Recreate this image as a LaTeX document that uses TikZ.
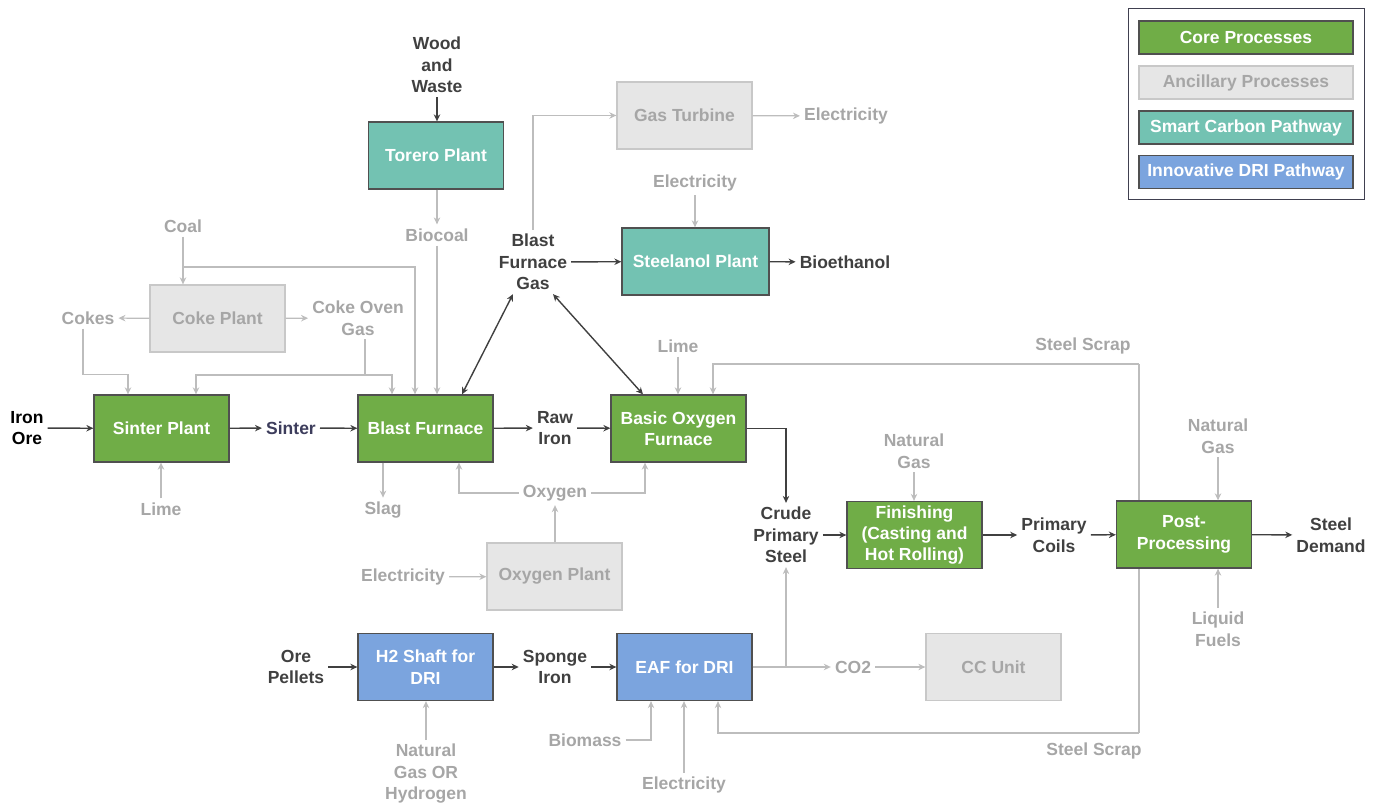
\documentclass[tikz,border=0pt]{standalone}
\usepackage{fontspec}
\setmainfont{Liberation Sans}
\usetikzlibrary{arrows.meta,calc}
\definecolor{cgreen}{HTML}{70AD47}
\definecolor{cteal}{HTML}{73C2B2}
\definecolor{cblue}{HTML}{7BA4DE}
\definecolor{cancfill}{HTML}{E6E6E6}
\definecolor{cancline}{HTML}{C8C8C8}
\definecolor{glabel}{HTML}{A6A6A6}
\definecolor{gline}{HTML}{BDBDBD}
\definecolor{dk}{HTML}{404040}
\definecolor{bord}{HTML}{505050}
\definecolor{sintc}{HTML}{3D3D5C}
\definecolor{legb}{HTML}{404050}
\begin{document}
\begin{tikzpicture}[x=1pt,y=-1pt,
 box/.style={draw=bord,line width=1.3pt,minimum width=135pt,minimum height=67pt,inner sep=0pt,align=center,text=white,font=\bfseries\fontsize{17.5}{21.5}\selectfont},
 core/.style={box,fill=cgreen},
 smart/.style={box,fill=cteal},
 dri/.style={box,fill=cblue},
 anc/.style={box,fill=cancfill,draw=cancline,text=glabel},
 glab/.style={text=glabel,align=center,font=\bfseries\fontsize{17.5}{21.5}\selectfont,inner sep=4pt},
 dlab/.style={glab,text=dk},
 tipa/.tip={Stealth[length=7pt,width=6.5pt]},
 ga/.style={draw=gline,line width=1.2pt,-tipa},
 gl/.style={draw=gline,line width=1.2pt},
 da/.style={draw=dk,line width=1.4pt,-tipa},
 dd/.style={draw=dk,line width=1.4pt,tipa-tipa},
 legbox/.style={minimum width=214pt,minimum height=33pt},
]
\useasboundingbox (0,0) rectangle (1374,805);

% steel scrap trunk (behind boxes)
\coordinate (ssT) at (1139,364);
\coordinate (ssB) at (1139,733);
\draw[gl] (ssT) -- (ssB);

% process boxes
\node[core] (sp) at (161.5,428.5) {Sinter Plant};
\node[core] (bf) at (425.5,428.5) {Blast Furnace};
\node[core] (bof) at (678.5,428.5) {Basic Oxygen\\Furnace};
\node[anc] (coke) at (217.5,318.5) {Coke Plant};
\node[smart] (tor) at (436,155.5) {Torero Plant};
\node[anc] (gt) at (684.5,115.5) {Gas Turbine};
\node[smart,minimum width=147pt] (stl) at (695.5,261.5) {Steelanol Plant};
\node[anc] (oxp) at (554.5,576.5) {Oxygen Plant};
\node[core,font=\bfseries\fontsize{17.5}{21}\selectfont] (fin) at (914.5,535) {Finishing\\(Casting and\\Hot Rolling)};
\node[core] (pp) at (1184,534.5) {Post-\\Processing};
\node[dri] (h2) at (425.5,667) {H2 Shaft for\\DRI};
\node[dri] (eaf) at (684.5,667) {EAF for DRI};
\node[anc] (cc) at (993.5,667) {CC Unit};

% labels
\node[dlab] (wood) at (437,65) {Wood\\and\\Waste};
\node[glab] (biocoal) at (437,235) {Biocoal};
\node[glab] (coal) at (183,226) {Coal};
\node[glab] (cokes) at (88,318) {Cokes};
\node[glab] (cog) at (358,318) {Coke Oven\\Gas};
\node[glab] (lime1) at (161,509) {Lime};
\node[dlab,text=black] (ore) at (27,428) {Iron\\Ore};
\node[dlab,text=sintc] (sin) at (291,428) {Sinter};
\node[dlab] (raw) at (555,428) {Raw\\Iron};
\node[glab] (slag) at (383,510) {Slag};
\node[glab] (oxy) at (555,493) {Oxygen};
\node[glab] (el1) at (403,577) {Electricity};
\node[dlab] (bfg) at (533,262) {Blast\\Furnace\\Gas};
\node[glab] (el2) at (846,116) {Electricity};
\node[glab] (el3) at (695,183) {Electricity};
\node[dlab] (bioeth) at (845,262) {Bioethanol};
\node[glab] (lime2) at (678,346) {Lime};
\node[glab] (ss1) at (1083,346) {Steel Scrap};
\node[glab] (ss2) at (1094,751) {Steel Scrap};
\node[dlab] (cps) at (786,535) {Crude\\Primary\\Steel};
\node[glab] (ng1) at (914,451) {Natural\\Gas};
\node[dlab] (pc) at (1054,535) {Primary\\Coils};
\node[glab] (ng2) at (1218,436) {Natural\\Gas};
\node[glab] (lf) at (1218,629) {Liquid\\Fuels};
\node[dlab] (sd) at (1331,535) {Steel\\Demand};
\node[dlab] (op) at (296,667) {Ore\\Pellets};
\node[glab] (ngh) at (426,774) {Natural\\Gas OR\\Hydrogen};
\node[dlab] (spi) at (555,667) {Sponge\\Iron};
\node[glab] (co2) at (853,667) {CO2};
\node[glab] (bio) at (585,740) {Biomass};
\node[glab] (el4) at (684,785) {Electricity};

% connectors - top
\draw[da] (wood.south) -- (wood.south|-tor.north);
\draw[ga] (biocoal.north|-tor.south) -- (biocoal.north);
\draw[ga] (biocoal.south) -- (biocoal.south|-bf.north);
\draw[ga] (coal.south) -- (coal.south|-coke.north);
\coordinate (cj) at (183,267);
\draw[ga] (cj) -| ([xshift=-10.5pt]bf.north);
\draw[ga] (coke) -- (cokes);
\draw[ga] (coke) -- (cog);
\draw[ga] ([xshift=-5pt]cokes.south) |- ([xshift=-33.5pt,yshift=20pt]sp.north) -- ([xshift=-33.5pt]sp.north);
\coordinate (gj) at (365,375);
\draw[gl] ([xshift=7pt]cog.south) -- (gj);
\draw[ga] (gj) -| ([xshift=34.5pt]sp.north);
\draw[ga] (gj) -| ([xshift=-33.5pt]bf.north);
\draw[ga] (lime1.north) -- (lime1.north|-sp.south);

% main line
\draw[da] (ore) -- (sp);
\draw[da] (sp) -- (sin);
\draw[da] (sin) -- (bf);
\draw[da] (bf) -- (raw);
\draw[da] (raw) -- (bof);
\draw[ga] (slag.north|-bf.south) -- (slag.north);
\draw[ga] (oxy.west) -| ([xshift=33.5pt]bf.south);
\draw[ga] (oxy.east) -| ([xshift=-33.5pt]bof.south);
\draw[ga] (oxy.south|-oxp.north) -- (oxy.south);
\draw[ga] (el1) -- (oxp);

% blast furnace gas
\draw[dd] ([xshift=36.5pt]bf.north) -- ([xshift=-20pt]bfg.south);
\draw[dd] ([xshift=-35.5pt]bof.north) -- ([xshift=20pt]bfg.south);
\draw[ga] (bfg.north) |- (gt.west);
\draw[ga] (gt) -- (el2);
\draw[da] (bfg) -- (stl);
\draw[ga] (el3.south) -- (el3.south|-stl.north);
\draw[da] (stl) -- (bioeth);

% BOF and downstream
\draw[ga] (lime2.south) -- (lime2.south|-bof.north);
\draw[ga] (ssT) -| ([xshift=34.5pt]bof.north);
\draw[ga] (ssB) -| ([xshift=33.5pt]eaf.south);
\draw[da] (bof.east) -| (cps.north);
\draw[da] (cps) -- (fin);
\draw[ga] (ng1.south) -- (ng1.south|-fin.north);
\draw[da] (fin) -- (pc);
\draw[da] (pc) -- (pp);
\draw[ga] (ng2.south) -- (ng2.south|-pp.north);
\draw[ga] (lf.north) -- (lf.north|-pp.south);
\draw[da] (pp) -- (sd);

% DRI
\draw[da] (op) -- (h2);
\draw[ga] (ngh.north) -- (ngh.north|-h2.south);
\draw[da] (h2) -- (spi);
\draw[da] (spi) -- (eaf);
\coordinate (ej) at (786,667);
\draw[gl] (eaf.east) -- (ej);
\draw[ga] (ej) -- (cps.south);
\draw[ga] (ej) -- (co2);
\draw[ga] (co2) -- (cc);
\draw[ga] (bio.east) -| ([xshift=-33.5pt]eaf.south);
\draw[ga] (el4.north) -- (el4.north|-eaf.south);

% legend
\node[draw=legb,line width=1pt,minimum width=236pt,minimum height=191pt] (leg) at (1246,104.5) {};
\node[core,legbox] (l1) at (1246,37.5) {Core Processes};
\node[anc,legbox] (l2) at (1246,82.5) {Ancillary Processes};
\node[smart,legbox] (l3) at (1246,127.5) {Smart Carbon Pathway};
\node[dri,legbox] (l4) at (1246,172) {Innovative DRI Pathway};
\end{tikzpicture}
\end{document}
